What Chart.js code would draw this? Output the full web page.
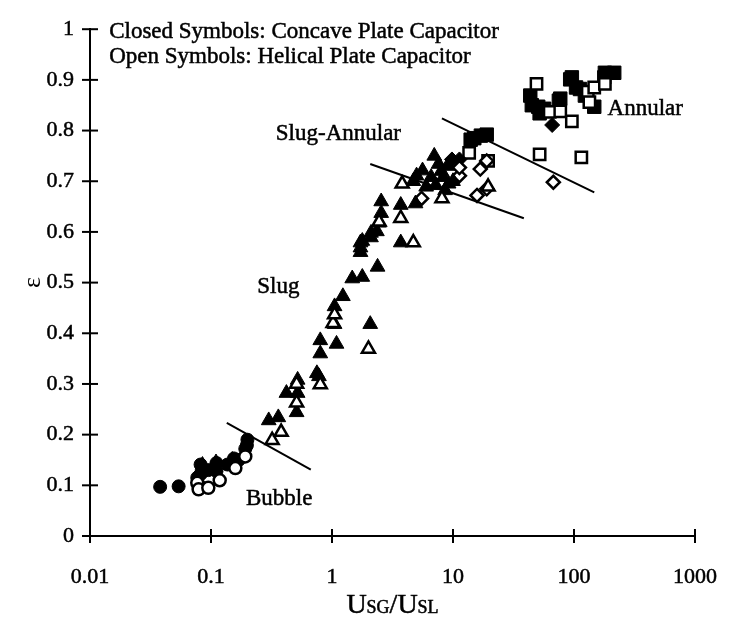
<!DOCTYPE html>
<html>
<head>
<meta charset="utf-8">
<script src="https://cdn.jsdelivr.net/npm/chart.js@4/dist/chart.umd.min.js"></script>
<style>
  html, body { margin: 0; padding: 0; background: #fff; }
  #wrap { width: 745px; height: 629px; position: relative; }
</style>
</head>
<body>
<div id="wrap"><canvas id="c" width="745" height="629"></canvas></div>
<script>
// ---- Data (x = USG/USL, y = void fraction) ----
const xTickValues = [0.01, 0.1, 1, 10, 100, 1000];
const xTickLabels = ['0.01', '0.1', '1', '10', '100', '1000'];
const yTickLabels = ['0', '0.1', '0.2', '0.3', '0.4', '0.5', '0.6', '0.7', '0.8', '0.9', '1'];

const closedCircles = [[0.038,0.097],[0.054,0.098],[0.077,0.115],[0.079,0.102],[0.082,0.122],[0.082,0.141],[0.095,0.13],[0.111,0.144],[0.111,0.128],[0.137,0.141],[0.155,0.153],[0.17,0.15],[0.192,0.172],[0.198,0.179],[0.2,0.19]];
const openCircles = [[0.077,0.105],[0.079,0.092],[0.095,0.095],[0.118,0.11],[0.159,0.134],[0.192,0.157]];
const closedTriangles = [[0.08,0.125],[0.085,0.14],[0.11,0.145],[0.15,0.15],[0.30,0.228],[0.36,0.234],[0.42,0.282],[0.51,0.244],[0.52,0.282],[0.52,0.308],[0.75,0.321],[0.78,0.315],[0.80,0.36],[0.80,0.386],[1.05,0.418],[1.05,0.453],[1.09,0.379],[1.23,0.473],[1.47,0.508],[1.78,0.511],[1.72,0.56],[1.72,0.569],[1.72,0.579],[1.78,0.582],[2.07,0.418],[2.38,0.531],[2.1,0.589],[2.1,0.598],[2.35,0.601],[2.45,0.618],[2.55,0.637],[2.55,0.66],[3.7,0.579],[3.7,0.653],[4.9,0.656],[4.7,0.70],[5.0,0.711],[5.6,0.721],[6.0,0.689],[6.6,0.708],[7.0,0.75],[7.2,0.692],[7.6,0.734],[8.0,0.72],[8.3,0.708],[8.6,0.682],[9.0,0.73],[9.2,0.695],[10,0.70]];
const openTriangles = [[0.32,0.189],[0.38,0.205],[0.51,0.263],[0.51,0.30],[0.80,0.299],[1.02,0.42],[1.05,0.437],[2.0,0.369],[2.45,0.62],[3.7,0.627],[3.8,0.695],[4.7,0.579],[8.1,0.666],[19.5,0.689]];
const closedDiamonds = [[9.8,0.743],[11.3,0.743],[66,0.811]];
const openDiamonds = [[5.5,0.666],[11.3,0.711],[11.3,0.727],[15.8,0.672],[16.8,0.724],[19,0.685],[19,0.74],[67.5,0.698]];
const closedSquares = [[14,0.782],[15,0.785],[17,0.79],[19,0.792],[43.5,0.869],[44.8,0.85],[50.6,0.847],[52,0.834],[56.6,0.843],[75,0.859],[77,0.863],[93,0.901],[96,0.905],[104,0.885],[112,0.882],[123,0.869],[147,0.847],[178,0.905],[180,0.914],[215,0.914]];
const openSquares = [[13.6,0.756],[19.5,0.74],[49,0.892],[52,0.753],[63,0.837],[77,0.838],[96,0.818],[115,0.747],[130,0.877],[134,0.856],[147,0.885],[180,0.892]];

const bubbleSlugLine = [[0.135,0.223],[0.668,0.131]];
const slugAnnularLine = [[2.07,0.734],[38.5,0.627]];
const annularLine = [[8.1,0.824],[147,0.678]];

const regimeLabels = ['Slug-Annular', 'Slug', 'Bubble', 'Annular'];
const regimeLabelAt = [[1.13,0.793],[0.36,0.491],[0.366,0.0735],[388,0.843]];
const noteLines = ['Closed Symbols: Concave Plate Capacitor', 'Open Symbols: Helical Plate Capacitor'];
const noteAt = [[0.0144,0.994],[0.0144,0.945]];

// ---- Helpers ----
const pts = arr => arr.map(p => ({x: p[0], y: p[1]}));
const FONT = '"Liberation Serif", "Times New Roman", serif';

function markers(label, arr, style, filled, radius) {
  return {
    label, data: pts(arr), pointStyle: style, pointRadius: radius, pointHoverRadius: radius,
    backgroundColor: filled ? '#000' : '#fff', borderColor: '#000',
    pointBorderWidth: filled ? 1 : 2.5, borderWidth: filled ? 1 : 2.5, showLine: false
  };
}
function boundary(label, arr) {
  return {
    label, data: pts(arr), showLine: true, borderColor: '#000', borderWidth: 2,
    pointRadius: 0, fill: false
  };
}

const crossTicks = {
  id: 'crossTicks',
  afterDraw(chart) {
    const ctx = chart.ctx, xs = chart.scales.x, ys = chart.scales.y;
    const a = chart.chartArea;
    ctx.save();
    ctx.strokeStyle = '#000'; ctx.lineWidth = 2;
    xs.ticks.forEach(t => {
      const px = xs.getPixelForValue(t.value);
      ctx.beginPath(); ctx.moveTo(px, a.bottom - 7); ctx.lineTo(px, a.bottom + 7); ctx.stroke();
    });
    ys.ticks.forEach(t => {
      const py = ys.getPixelForValue(t.value);
      ctx.beginPath(); ctx.moveTo(a.left - 8, py); ctx.lineTo(a.left + 8, py); ctx.stroke();
    });
    ctx.restore();
  }
};

function darkText(ctx, s, x, y) {
  ctx.fillText(s, x, y);
  ctx.strokeText(s, x, y);
}

const texts = {
  id: 'texts',
  afterDraw(chart) {
    const ctx = chart.ctx, xs = chart.scales.x, ys = chart.scales.y, a = chart.chartArea;
    ctx.save();
    ctx.fillStyle = '#000';
    ctx.strokeStyle = '#000';
    ctx.lineWidth = 0.5;
    ctx.textBaseline = 'middle';
    ctx.font = '23px ' + FONT;
    ctx.textAlign = 'center';
    regimeLabels.forEach((s, i) => {
      darkText(ctx, s, xs.getPixelForValue(regimeLabelAt[i][0]), ys.getPixelForValue(regimeLabelAt[i][1]));
    });
    ctx.textAlign = 'left';
    ctx.font = '23px ' + FONT;
    noteLines.forEach((s, i) => {
      darkText(ctx, s, xs.getPixelForValue(noteAt[i][0]), ys.getPixelForValue(noteAt[i][1]));
    });
    // x-axis title with subscripts: U_SG / U_SL
    const parts = [['U', 28, 0], ['SG', 18, 0], ['/U', 28, 0], ['SL', 18, 0]];
    let w = 0;
    parts.forEach(p => { ctx.font = p[1] + 'px ' + FONT; w += ctx.measureText(p[0]).width; });
    let x = (a.left + a.right) / 2 - w / 2;
    const y = 613;
    ctx.textBaseline = 'alphabetic';
    parts.forEach(p => {
      ctx.font = p[1] + 'px ' + FONT;
      darkText(ctx, p[0], x, y + p[2]);
      x += ctx.measureText(p[0]).width;
    });
    ctx.restore();
  }
};

new Chart(document.getElementById('c'), {
  type: 'scatter',
  data: {
    datasets: [
      boundary('Bubble/Slug boundary', bubbleSlugLine),
      boundary('Slug/Slug-Annular boundary', slugAnnularLine),
      boundary('Slug-Annular/Annular boundary', annularLine),
      markers('Helical, open circles', openCircles, 'circle', false, 6),
      markers('Concave, closed circles', closedCircles, 'circle', true, 6.5),
      markers('Helical, open triangles', openTriangles, 'triangle', false, 7.5),
      markers('Concave, closed triangles', closedTriangles, 'triangle', true, 8.5),
      markers('Helical, open diamonds', openDiamonds, 'rectRot', false, 6.5),
      markers('Concave, closed diamonds', closedDiamonds, 'rectRot', true, 7.5),
      markers('Helical, open squares', openSquares, 'rect', false, 8),
      markers('Concave, closed squares', closedSquares, 'rect', true, 9.5)
    ]
  },
  options: {
    responsive: false,
    animation: false,
    layout: { padding: { left: 18, right: 23, top: 19, bottom: 0 } },
    plugins: { legend: { display: false }, tooltip: { enabled: false } },
    scales: {
      x: {
        type: 'logarithmic', min: 0.01, max: 1000,
        afterBuildTicks: s => { s.ticks = xTickValues.map(v => ({ value: v })); },
        afterFit: s => { s.height = 93; },
        border: { display: true, color: '#000', width: 2 },
        grid: { display: false, drawTicks: false },
        ticks: {
          autoSkip: false, maxRotation: 0, padding: 28, color: '#000',
          font: { family: FONT, size: 22 }, textStrokeColor: '#000', textStrokeWidth: 0.5,
          callback: (v, i) => xTickLabels[i]
        }
      },
      y: {
        type: 'linear', min: 0, max: 1,
        afterBuildTicks: s => { s.ticks = yTickLabels.map((t, i) => ({ value: i / 10 })); },
        afterFit: s => { s.width = 72; },
        border: { display: true, color: '#000', width: 2 },
        grid: { display: false, drawTicks: false },
        ticks: {
          autoSkip: false, padding: 16, color: '#000',
          font: { family: FONT, size: 22 }, textStrokeColor: '#000', textStrokeWidth: 0.5,
          callback: (v, i) => yTickLabels[i]
        },
        title: { display: true, text: 'ε', color: '#000', font: { family: FONT, size: 26 }, padding: { top: 0, bottom: 0 } }
      }
    }
  },
  plugins: [crossTicks, texts]
});
</script>
</body>
</html>
